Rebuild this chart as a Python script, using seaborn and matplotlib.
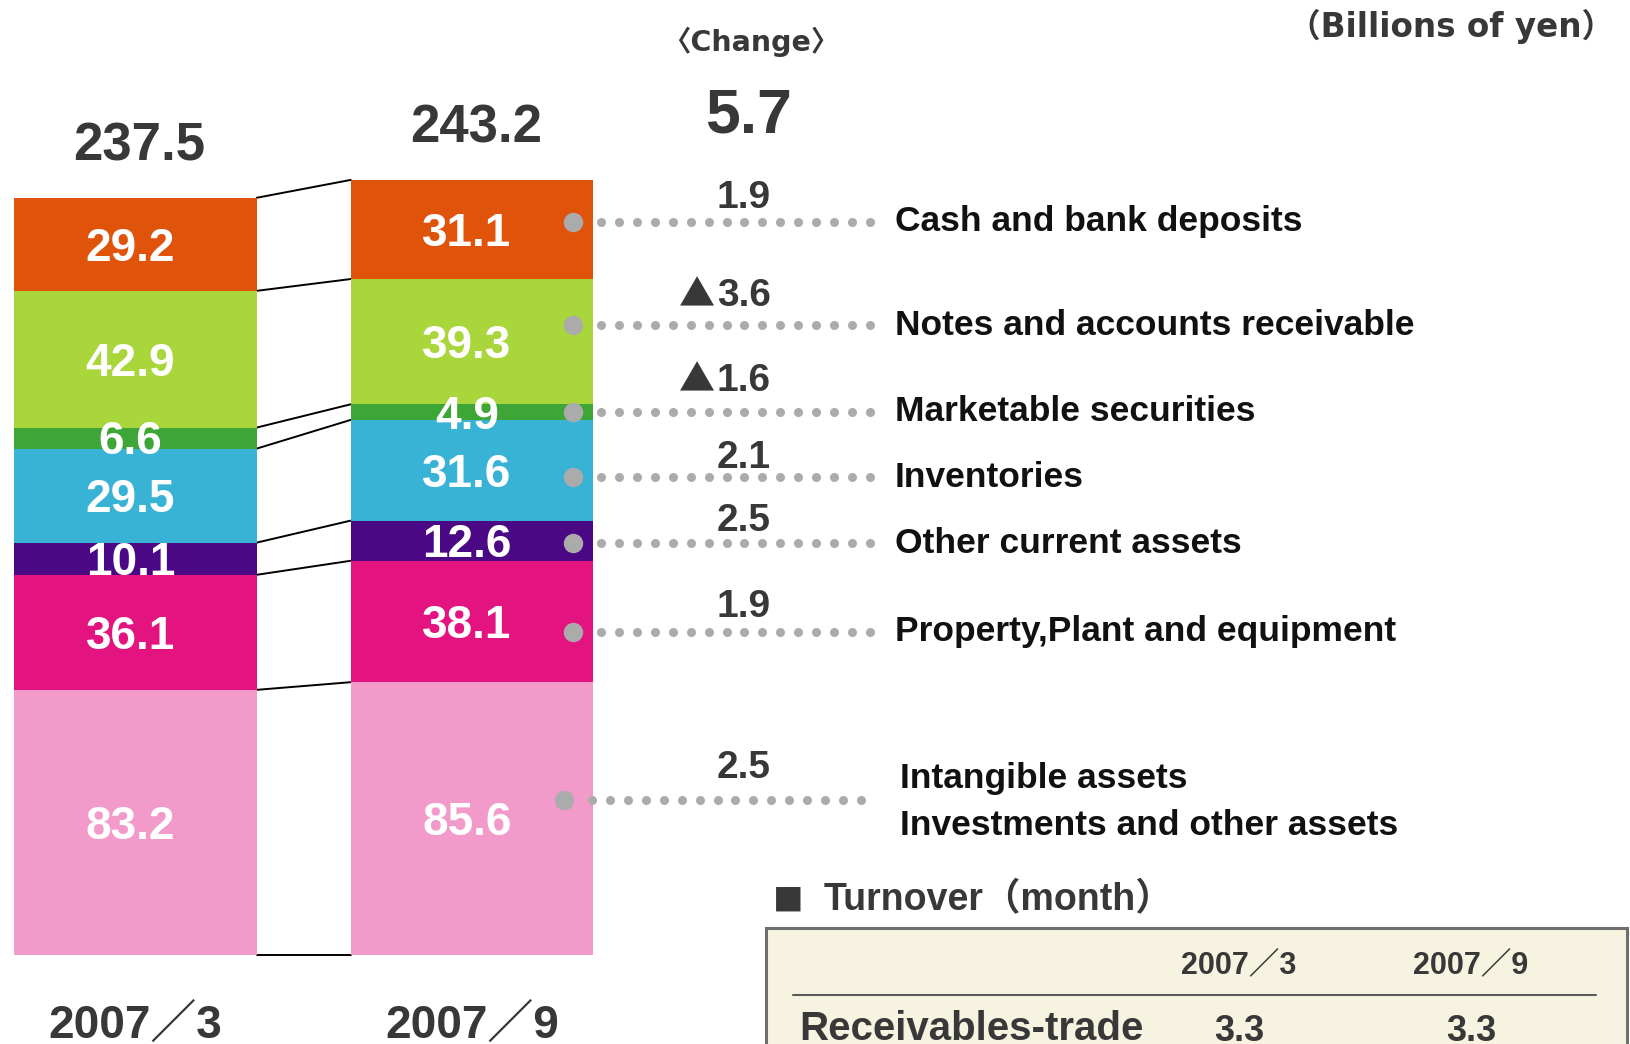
import matplotlib
matplotlib.use('Agg')
import matplotlib.pyplot as plt
import matplotlib.transforms as mtransforms
from matplotlib.patches import Rectangle
import numpy as np
import seaborn as sns

# ---- data (billions of yen) ----
PERIODS = ['2007／3', '2007／9']
ASSETS = ['Cash and bank deposits', 'Notes and accounts receivable',
          'Marketable securities', 'Inventories', 'Other current assets',
          'Property,Plant and equipment',
          'Intangible assets\nInvestments and other assets']
MAR_2007 = [29.2, 42.9, 6.6, 29.5, 10.1, 36.1, 83.2]
SEP_2007 = [31.1, 39.3, 4.9, 31.6, 12.6, 38.1, 85.6]
TOTALS = [237.5, 243.2]
CHANGES = [1.9, -3.6, -1.6, 2.1, 2.5, 1.9, 2.5]
TOTAL_CHANGE = 5.7
TURNOVER_ITEM = 'Receivables-trade'
TURNOVER = [3.3, 3.3]

COLORS = ['#e0530b', '#a9d63b', '#3da636', '#39b3d5', '#4b0885', '#e3137f', '#f29bcb']
TEXT = '#383838'
DOT = '#ababab'

# ---- layout (pixels of the 1631x1044 canvas) ----
W_PX, H_PX = 1631, 1044
BASE_PX = 955          # pixel row of value 0
PX_PER_UNIT = 3.187    # pixels per billion yen
BAR_X_PX = (135.5, 472.0)
BAR_W = 242.5 / (BAR_X_PX[1] - BAR_X_PX[0])
ROW_PX = [221.5, 325, 411.5, 477, 543, 631.5, 800]
CHANGE_PX = [194, 292.5, 377.5, 454, 517, 603, 764]

sns.set_style('white')
plt.rcParams['font.family'] = ['Liberation Sans', 'Noto Sans CJK JP', 'DejaVu Sans']
plt.rcParams['font.weight'] = 'bold'

fig = plt.figure(figsize=(W_PX / 100, H_PX / 100), dpi=100)
ax = fig.add_axes([0, 0, 1, 1])
px = mtransforms.Affine2D().scale(1 / W_PX, -1 / H_PX).translate(0, 1) + fig.transFigure


def half_cap(size):
    # half the cap height (pixels) of Liberation Sans at this point size
    return 0.358 * size * 100 / 72


def put(x, y, s, size, color=TEXT, **kw):
    # place text so that its digits/capitals are centred on pixel row y
    return ax.text(x, y + half_cap(size), s, transform=px, va='baseline',
                   fontsize=size, fontweight='bold', color=color, **kw)


# stacked bars: draw cumulative tops from the largest down
n = len(ASSETS)
for k in range(n):
    tops = [sum(MAR_2007[k:]), sum(SEP_2007[k:])]
    sns.barplot(x=PERIODS, y=tops, order=PERIODS, color=COLORS[k], width=BAR_W,
                saturation=1, linewidth=0, ax=ax, zorder=2)

spacing = BAR_X_PX[1] - BAR_X_PX[0]
ax.set_xlim(-BAR_X_PX[0] / spacing, (W_PX - BAR_X_PX[0]) / spacing)
ax.set_ylim((BASE_PX - H_PX) / PX_PER_UNIT, BASE_PX / PX_PER_UNIT)
ax.axis('off')

# connector lines between segment boundaries
bounds_l = [sum(MAR_2007[k:]) for k in range(n)] + [0]
bounds_r = [sum(SEP_2007[k:]) for k in range(n)] + [0]
for yl, yr in zip(bounds_l, bounds_r):
    ax.plot([BAR_W / 2, 1 - BAR_W / 2], [yl, yr], color='black', lw=1.4, zorder=1)

# segment values and totals
for i, vals in enumerate([MAR_2007, SEP_2007]):
    for k in range(n):
        yc = sum(vals[k + 1:]) + vals[k] / 2
        ax.annotate(f'{vals[k]:.1f}', xy=(i, yc), xytext=(-5, -half_cap(33)),
                    textcoords='offset pixels', ha='center', va='baseline',
                    color='white', fontsize=33, fontweight='bold', zorder=5)
    ax.annotate(f'{TOTALS[i]:.1f}', xy=(i, sum(vals)), xytext=(4, 56 - half_cap(38)),
                textcoords='offset pixels', ha='center', va='baseline',
                fontsize=38, fontweight='bold', color=TEXT)

# period labels under bars
under = mtransforms.blended_transform_factory(ax.transData, px)
for i, p in enumerate(PERIODS):
    ax.text(i, 1021.5 + half_cap(33), p, transform=under, ha='center', va='baseline',
            fontsize=33, fontweight='bold', color=TEXT)

# header texts
ax.text(751, 41 + half_cap(20.5), '〈Change〉', transform=px, ha='center', va='baseline',
        fontsize=20.5, fontweight='bold', color=TEXT,
        family=['DejaVu Sans', 'Noto Sans CJK JP'])
put(749, 110, f'{TOTAL_CHANGE:.1f}', 45, ha='center')
ax.text(1614, 25.5 + half_cap(23.5), '（Billions of yen）', transform=px, ha='right',
        va='baseline', fontsize=23.5, fontweight='bold', color=TEXT,
        family=['DejaVu Sans', 'Noto Sans CJK JP'])

# leaders, change values and item names
renderer = fig.canvas.get_renderer()
for name, ch, ry, cy in zip(ASSETS, CHANGES, ROW_PX, CHANGE_PX):
    lines = name.split('\n')
    x0 = 564 if len(lines) > 1 else 573
    ax.plot([x0], [ry], 'o', ms=14, color=DOT, mec='none', transform=px, zorder=6)
    xs = np.linspace(x0 + 28, x0 + 297, 16)
    ax.plot(xs, [ry] * len(xs), 'o', ms=6.5, color=DOT, mec='none',
            transform=px, zorder=6)

    num = put(771, cy, f'{abs(ch):.1f}', 28, ha='right')
    if ch < 0:
        bb = num.get_window_extent(renderer)
        left_px = bb.x0 / fig.dpi * 100
        ax.text(left_px - 2, cy + half_cap(28), '▲', transform=px, ha='right',
                va='baseline', fontsize=26, fontweight='bold', color=TEXT,
                family=['Noto Sans CJK JP'])

    if len(lines) == 1:
        put(895, ry - 3, name, 25.5, color='#111111', ha='left')
    else:
        for j, line in enumerate(lines):
            put(900, ry - 25 + 47 * j, line, 25.5, color='#111111', ha='left')

# turnover table
ax.text(773, 897 + half_cap(27), '■', transform=px, ha='left', va='baseline',
        fontsize=22, color=TEXT, family=['Noto Sans CJK JP'])
put(824, 896.5, 'Turnover（month）', 27, ha='left')
ax.add_patch(Rectangle((766, 928), 861, 200, transform=px, facecolor='#f6f4e1',
                       edgecolor='#6e6e6e', lw=2.2, zorder=3))
ax.plot([793, 1596], [995, 995], color='#5a5a5a', lw=1.5, transform=px, zorder=4)
col_x = [1239, 1471]
for cx, p, v in zip(col_x, PERIODS, TURNOVER):
    put(cx, 962.5, p, 22, ha='center', zorder=5)
    put(cx, 1028, f'{v:.1f}', 26, ha='center', zorder=5)
put(799, 1026, TURNOVER_ITEM, 29, ha='left', zorder=5)

fig.savefig('out.png', dpi=100)
